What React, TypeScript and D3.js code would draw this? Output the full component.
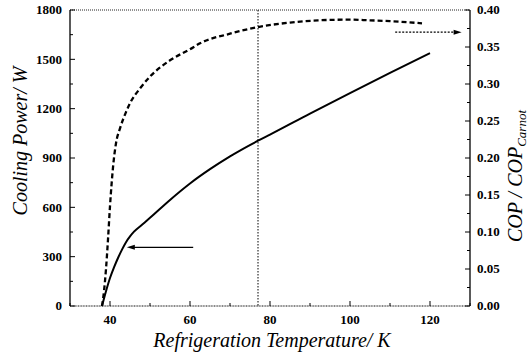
import React from 'react';
import * as d3 from 'd3';

// cooling power curve (left axis)
const powerT = [38, 39, 40, 41, 42, 43, 44, 45, 46, 48, 50, 55, 60, 65, 70, 77, 80, 90, 100, 110, 120];
const powerW = [0, 90, 170, 235, 292, 343, 388, 423, 452, 494, 536, 645, 745, 832, 910, 1005, 1042, 1170, 1295, 1418, 1538];

// COP / COP_Carnot curve (right axis)
const copT = [38, 38.5, 39, 39.5, 40, 40.8, 41.5, 42.5, 44, 45, 47.5, 50, 55, 60, 62.5, 70, 77, 85, 92, 100, 105, 110, 118];
const copV = [0, 0.02, 0.05, 0.09, 0.135, 0.19, 0.22, 0.24, 0.262, 0.274, 0.294, 0.31, 0.332, 0.347, 0.355, 0.368, 0.377, 0.383, 0.386, 0.387, 0.386, 0.385, 0.382];

const xTicks = [40, 60, 80, 100, 120];
const xMinor = [30, 50, 70, 90, 110, 130];
const leftTicks = [0, 300, 600, 900, 1200, 1500, 1800];
const rightTicks = [0, 0.05, 0.1, 0.15, 0.2, 0.25, 0.3, 0.35, 0.4];
const refT = 77;
// arrows: [from T, to T, value]
const leftArrow = [60.8, 44.2, 357];
const rightArrow = [111.3, 127.9, 0.37];

const W = 531, H = 357;
const m = { left: 70, right: 470, top: 10, bottom: 306 };
const serif = 'Liberation Serif, DejaVu Serif, Times New Roman, serif';

export default function App() {
  const x = d3.scaleLinear().domain([30, 130]).range([m.left, m.right]);
  const yL = d3.scaleLinear().domain([0, 1800]).range([m.bottom, m.top]);
  const yR = d3.scaleLinear().domain([0, 0.4]).range([m.bottom, m.top]);

  const powerLine = d3.line<number>()
    .x((d, i) => x(powerT[i]))
    .y(d => yL(d))
    .curve(d3.curveMonotoneX);
  const copLine = d3.line<number>()
    .x((d, i) => x(copT[i]))
    .y(d => yR(d))
    .curve(d3.curveMonotoneX);

  const leftMinor = d3.range(150, 1800, 300);
  const rightMinor = d3.range(0.025, 0.4, 0.05);

  const la = { x1: x(leftArrow[0]), x2: x(leftArrow[1]), y: yL(leftArrow[2]) };
  const ra = { x1: x(rightArrow[0]), x2: x(rightArrow[1]), y: yR(rightArrow[2]) };

  return (
    <svg width={W} height={H} style={{ position: 'absolute', left: 0, top: 0, background: '#fff' }}>
      {/* frame */}
      <line x1={m.left} x2={m.right} y1={m.top} y2={m.top} stroke="#222" strokeDasharray="1,1" />
      <line x1={m.left} x2={m.right} y1={m.bottom} y2={m.bottom} stroke="#111" strokeDasharray="1,0.6" />
      <line x1={m.left} x2={m.left} y1={m.top} y2={m.bottom} stroke="#000" strokeWidth={1.3} />
      <line x1={m.right} x2={m.right} y1={m.top} y2={m.bottom} stroke="#000" strokeWidth={1.3} />

      <g fontFamily={serif} fontWeight="bold" fontSize={13}>
        {xTicks.map(t => (
          <g key={'xt' + t}>
            <line x1={x(t)} x2={x(t)} y1={m.bottom} y2={m.bottom - 5} stroke="#000" />
            <text x={x(t)} y={324} textAnchor="middle">{t}</text>
          </g>
        ))}
        {xMinor.map(t => (
          <line key={'xm' + t} x1={x(t)} x2={x(t)} y1={m.bottom} y2={m.bottom - 3} stroke="#000" />
        ))}
        {leftTicks.map(t => (
          <g key={'lt' + t}>
            <line x1={m.left} x2={m.left + 5} y1={yL(t)} y2={yL(t)} stroke="#000" />
            <text x={62} y={yL(t)} dy="0.33em" textAnchor="end">{t}</text>
          </g>
        ))}
        {leftMinor.map(t => (
          <line key={'lm' + t} x1={m.left} x2={m.left + 3} y1={yL(t)} y2={yL(t)} stroke="#000" />
        ))}
        {rightTicks.map(t => (
          <g key={'rt' + t}>
            <line x1={m.right} x2={m.right - 5} y1={yR(t)} y2={yR(t)} stroke="#000" />
            <text x={477} y={yR(t)} dy="0.33em" textAnchor="start">{d3.format('.2f')(t)}</text>
          </g>
        ))}
        {rightMinor.map(t => (
          <line key={'rm' + t} x1={m.right} x2={m.right - 3} y1={yR(t)} y2={yR(t)} stroke="#000" />
        ))}
      </g>

      {/* reference temperature */}
      <line x1={x(refT)} x2={x(refT)} y1={m.top} y2={m.bottom} stroke="#000" strokeDasharray="1.5,1.5" />

      {/* curves */}
      <path d={powerLine(powerW) || ''} fill="none" stroke="#000" strokeWidth={2} />
      <path d={copLine(copV) || ''} fill="none" stroke="#000" strokeWidth={2.3} strokeDasharray="5,3" />

      {/* arrows */}
      <line x1={la.x1} x2={la.x2 + 5} y1={la.y} y2={la.y} stroke="#000" strokeWidth={1.3} />
      <polygon points={`${la.x2},${la.y} ${la.x2 + 8},${la.y - 2.5} ${la.x2 + 8},${la.y + 2.5}`} fill="#000" />
      <line x1={ra.x1} x2={ra.x2 - 5} y1={ra.y} y2={ra.y} stroke="#000" strokeWidth={1.2} strokeDasharray="2,1.5" />
      <polygon points={`${ra.x2},${ra.y} ${ra.x2 - 8},${ra.y - 2.5} ${ra.x2 - 8},${ra.y + 2.5}`} fill="#000" />

      {/* titles */}
      <g fontFamily={serif} fontStyle="italic" fontSize={20}>
        <text x={272} y={347} textAnchor="middle">Refrigeration Temperature/ K</text>
        <text transform="translate(27,141) rotate(-90)" textAnchor="middle">Cooling Power/ W</text>
        <text transform="translate(522,176) rotate(-90)" textAnchor="middle">
          COP / COP<tspan dy="4" fontSize={13}>Carnot</tspan>
        </text>
      </g>
    </svg>
  );
}
